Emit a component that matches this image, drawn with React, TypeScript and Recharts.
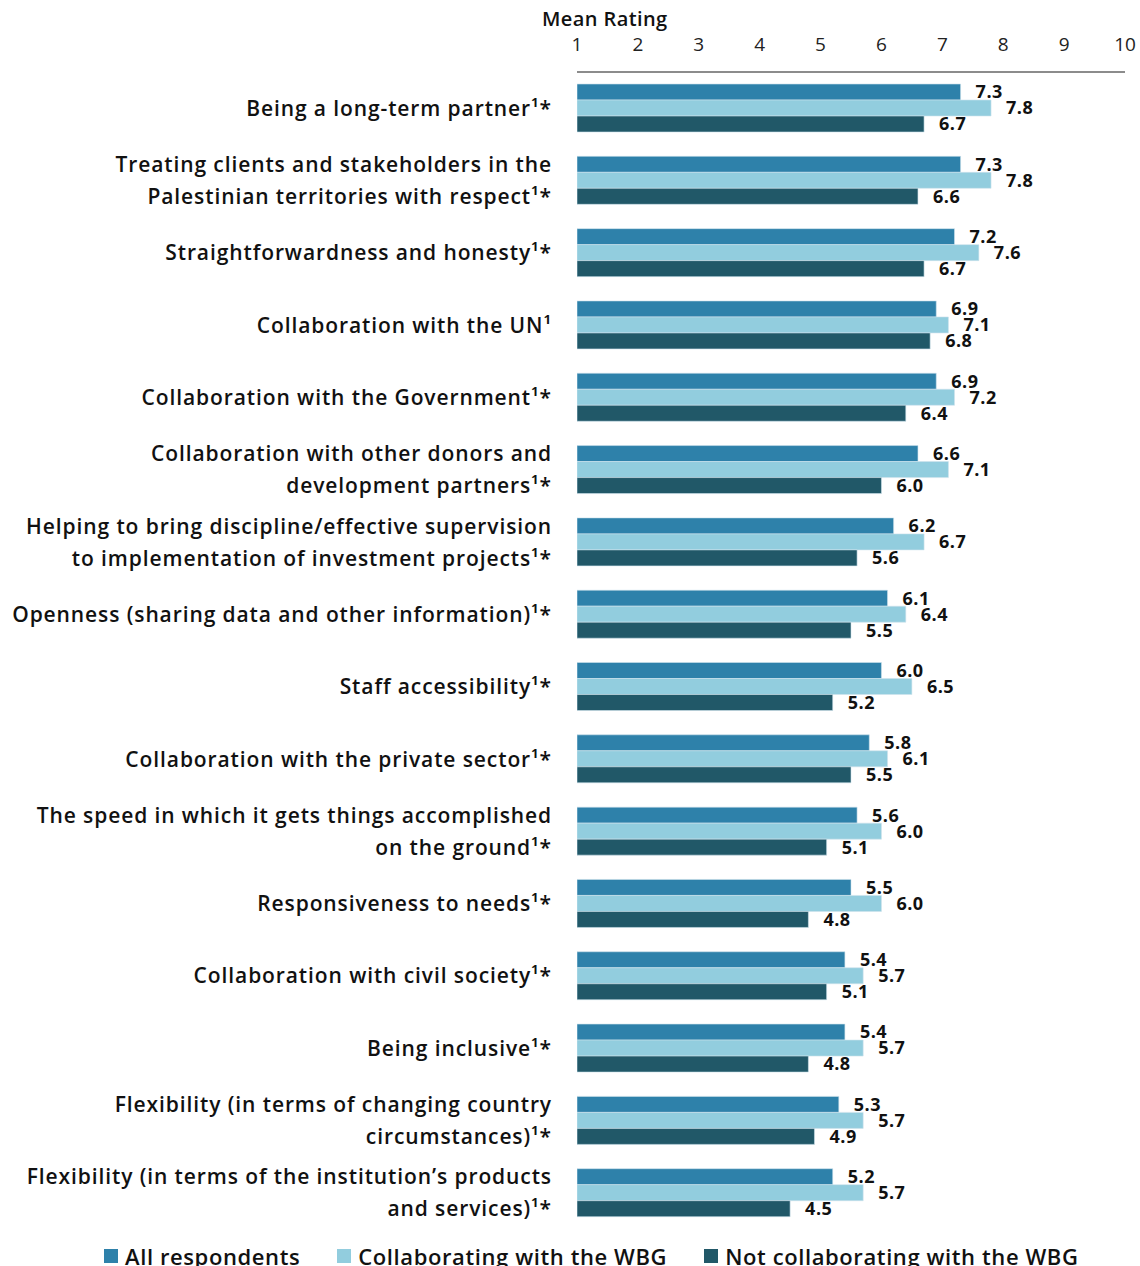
import React from 'react';
import { BarChart, Bar, XAxis, YAxis, LabelList, Legend } from 'recharts';

const categories = [
  ['Being a long-term partner¹*'],
  ['Treating clients and stakeholders in the', 'Palestinian territories with respect¹*'],
  ['Straightforwardness and honesty¹*'],
  ['Collaboration with the UN¹'],
  ['Collaboration with the Government¹*'],
  ['Collaboration with other donors and', 'development partners¹*'],
  ['Helping to bring discipline/effective supervision', 'to implementation of investment projects¹*'],
  ['Openness (sharing data and other information)¹*'],
  ['Staff accessibility¹*'],
  ['Collaboration with the private sector¹*'],
  ['The speed in which it gets things accomplished', 'on the ground¹*'],
  ['Responsiveness to needs¹*'],
  ['Collaboration with civil society¹*'],
  ['Being inclusive¹*'],
  ['Flexibility (in terms of changing country', 'circumstances)¹*'],
  ['Flexibility (in terms of the institution’s products', 'and services)¹*'],
];

const allRespondents = [7.3, 7.3, 7.2, 6.9, 6.9, 6.6, 6.2, 6.1, 6.0, 5.8, 5.6, 5.5, 5.4, 5.4, 5.3, 5.2];
const collaborating = [7.8, 7.8, 7.6, 7.1, 7.2, 7.1, 6.7, 6.4, 6.5, 6.1, 6.0, 6.0, 5.7, 5.7, 5.7, 5.7];
const notCollaborating = [6.7, 6.6, 6.7, 6.8, 6.4, 6.0, 5.6, 5.5, 5.2, 5.5, 5.1, 4.8, 5.1, 4.8, 4.9, 4.5];

const xTicks = [1, 2, 3, 4, 5, 6, 7, 8, 9, 10];

const SERIES = [
  { key: 'all', name: 'All respondents', color: '#2E81AA' },
  { key: 'collab', name: 'Collaborating with the WBG', color: '#92CDDE' },
  { key: 'notCollab', name: 'Not collaborating with the WBG', color: '#215868' },
];

const FONT = '"Open Sans", "Noto Sans", sans-serif';

const data = categories.map((lines, i) => ({
  id: String(i),
  lines,
  all: allRespondents[i],
  collab: collaborating[i],
  notCollab: notCollaborating[i],
}));

function CategoryTick(props: any) {
  const { x, y, payload } = props;
  const lines = data[Number(payload.value)].lines;
  const lh = 32;
  const start = -((lines.length - 1) * lh) / 2;
  return (
    <text
      x={x - 17}
      y={y}
      textAnchor="end"
      fontFamily={FONT}
      fontSize={21}
      fontWeight={600}
      letterSpacing={0.9}
      fill="#111"
    >
      {lines.map((l: string, i: number) => (
        <tspan key={i} x={x - 17} y={y + start + i * lh} dy="0.36em">
          {l}
        </tspan>
      ))}
    </text>
  );
}

function LegendContent() {
  return (
    <div
      style={{
        display: 'flex',
        justifyContent: 'flex-start',
        paddingLeft: 104,
        gap: 37,
        fontFamily: FONT,
        fontSize: 22,
        fontWeight: 600,
        letterSpacing: 0.6,
        color: '#111',
      }}
    >
      {SERIES.map(s => (
        <div key={s.key} style={{ display: 'flex', alignItems: 'center' }}>
          <span style={{ width: 14, height: 14, background: s.color, marginRight: 7, display: 'inline-block' }} />
          {s.name}
        </div>
      ))}
    </div>
  );
}

export default function App() {
  return (
    <div style={{ position: 'fixed', left: 0, top: 0, width: 1140, height: 1266, overflow: 'hidden', background: '#fff' }}>
      <div
        style={{
          position: 'absolute',
          left: 542,
          top: 5,
          fontFamily: FONT,
          fontSize: 20,
          fontWeight: 600,
          letterSpacing: 0.4,
          color: '#111',
        }}
      >
        Mean Rating
      </div>
      <BarChart
        width={1140}
        height={1266}
        data={data}
        layout="vertical"
        margin={{ top: 0, right: 15, bottom: 4, left: 0 }}
        barGap={0}
        barSize={16}
      >
        <XAxis
          type="number"
          orientation="top"
          domain={[1, 10]}
          ticks={xTicks}
          height={72}
          tickLine={false}
          tickSize={0}
          tickMargin={21}
          axisLine={{ stroke: '#8c8c8c', strokeWidth: 2 }}
          tick={{ fill: '#222', fontSize: 19, fontFamily: FONT }}
          allowDataOverflow
        />
        <YAxis
          type="category"
          dataKey="id"
          width={577}
          axisLine={false}
          tickLine={false}
          tick={<CategoryTick />}
          interval={0}
        />
        <Legend
          verticalAlign="bottom"
          height={33}
          content={<LegendContent />}
          wrapperStyle={{ bottom: -8 }}
        />
        {SERIES.map(s => (
          <Bar
            key={s.key}
            dataKey={s.key}
            name={s.name}
            fill={s.color}
            stroke="#cfe3ec"
            strokeWidth={0.6}
            isAnimationActive={false}
          >
            <LabelList
              dataKey={s.key}
              position="right"
              offset={15}
              formatter={(v: any) => Number(v).toFixed(1)}
              style={{ fontFamily: FONT, fontSize: 18, fontWeight: 700, letterSpacing: 0.5, fill: '#111' }}
            />
          </Bar>
        ))}
      </BarChart>
    </div>
  );
}
